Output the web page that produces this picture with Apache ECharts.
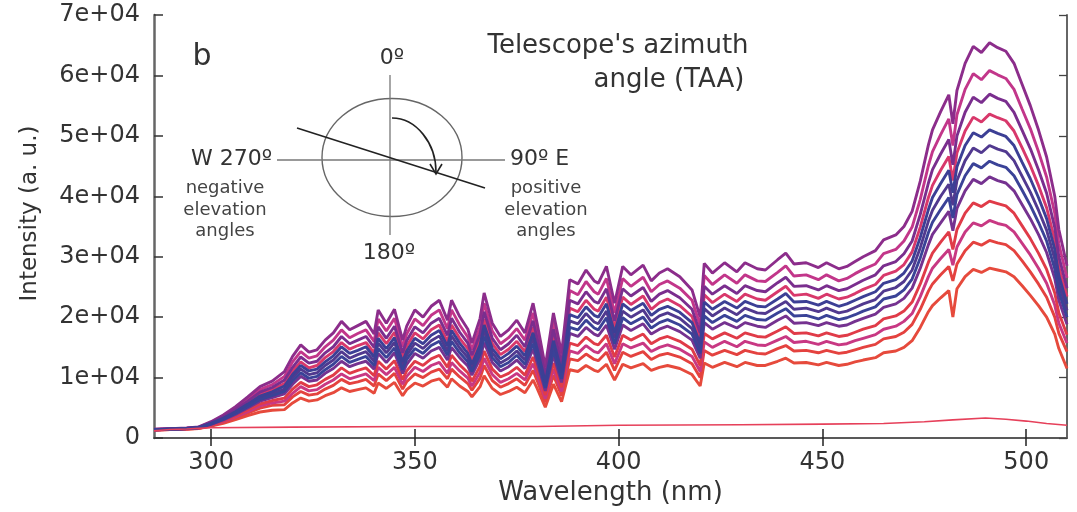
<!DOCTYPE html>
<html>
<head>
<meta charset="utf-8">
<script src="https://cdn.jsdelivr.net/npm/echarts@6/dist/echarts.min.js"></script>
<style>
html,body{margin:0;padding:0;background:#fff;}
#chart{width:1077px;height:512px;}
</style>
</head>
<body>
<div id="chart"></div>
<script>
// Wavelength grid (nm) shared by the sky spectra
const wl = [286,290,294,297,300,303,306,309,312,315,
  318,320,322,324,326,328,330,332,334,336,
  338,340,341,343,345,347,348,350,352,354,
  356,358,359,361,363,364,366,367,369,371,
  373,375,377,379,380,382,384,386,388,390,
  392,394,395,397,399,401,403,406,408,410,
  412,415,418,420,421,423,426,429,431,434,
  436,439,441,443,446,449,451,454,456,458,
  460,463,465,468,470,472,474,476,477,479,
  481,482,483,485,487,489,491,493,495,497,
  499,501,503,505,507,508,510];

const s1 = [1450,1550,1650,1850,2700,3800,5200,6800,8500,9400,
  11000,13500,15400,14200,14600,16200,17400,19300,17900,18600,
  19300,17200,21200,19000,21300,16200,18500,21200,20000,21800,
  22800,19500,22800,20100,18000,15700,19800,24000,19000,16800,
  17900,19500,17400,22300,19000,11800,20700,14000,26200,25500,
  27800,26000,25600,28400,22300,28400,27000,28600,26000,27300,
  28000,26700,24500,20000,28900,27300,29000,27500,29000,28000,
  27800,29500,30600,28800,29000,28200,29000,28000,28400,29200,
  30000,31000,32800,33600,35000,37500,42500,48500,51000,54000,
  56800,52000,57500,62000,64800,63800,65400,64600,64000,62000,
  58500,55000,51000,46500,40000,34500,28500];
const s2 = [1420,1520,1620,1800,2610,3630,4930,6420,8000,8840,
  10200,12600,14300,13200,13600,15100,16200,17900,16600,17300,
  17900,16000,19700,17700,19800,15100,17200,19700,18600,20300,
  21200,18100,21200,18700,16700,14600,18400,22300,17700,15600,
  16600,18100,16200,20700,17700,11000,19300,13000,24400,23700,
  25900,24200,23800,26400,20700,26400,25100,26600,24200,25400,
  26000,24800,22800,18600,26900,25400,27000,25600,27000,26000,
  25900,27400,28500,26800,27000,26200,27000,26000,26400,27200,
  27900,28800,30500,31200,32600,34900,39500,45100,47400,50200,
  52800,48400,53500,57700,60300,59300,60800,60100,59500,57700,
  54400,51200,47400,43200,37200,32100,26500];
const s3 = [1400,1500,1600,1780,2530,3490,4710,6100,7580,8360,
  9600,11700,13400,12400,12700,14100,15100,16800,15600,16200,
  16800,15000,18400,16500,18500,14100,16100,18400,17400,19000,
  19800,17000,19800,17500,15700,13700,17200,20900,16500,14600,
  15600,17000,15100,19400,16500,10300,18000,12200,22800,22200,
  24200,22600,22300,24700,19400,24700,23500,24900,22600,23800,
  24400,23200,21300,17400,25100,23800,25200,23900,25200,24400,
  24200,25700,26600,25100,25200,24500,25200,24400,24700,25400,
  26100,27000,28500,29200,30500,32600,37000,42200,44400,47000,
  49400,45200,50000,53900,56400,55500,56900,56200,55700,53900,
  50900,47900,44400,40500,34800,30000,24800];
const s4 = [1400,1500,1600,1760,2470,3370,4520,5830,7220,7960,
  9000,11100,12600,11600,12000,13300,14300,15800,14700,15300,
  15800,14100,17400,15600,17500,13300,15200,17400,16400,17900,
  18700,16000,18700,16500,14800,12900,16200,19700,15600,13800,
  14700,16000,14300,18300,15600,9700,17000,11500,21500,20900,
  22800,21300,21000,23300,18300,23300,22100,23500,21300,22400,
  23000,21900,20100,16400,23700,22400,23800,22600,23800,23000,
  22800,24200,25100,23600,23800,23100,23800,23000,23300,23900,
  24600,25400,26900,27600,28700,30800,34900,39800,41800,44300,
  46600,42600,47200,50800,53100,52300,53600,53000,52500,50800,
  48000,45100,41800,38100,32800,28300,23400];
const s5 = [1380,1480,1580,1740,2410,3270,4360,5610,6940,7640,
  8600,10500,12000,11100,11400,12600,13600,15100,14000,14500,
  15100,13400,16500,14800,16600,12600,14400,16500,15600,17000,
  17800,15200,17800,15700,14000,12200,15400,18700,14800,13100,
  14000,15200,13600,17400,14800,9200,16100,10900,20400,19900,
  21700,20300,20000,22200,17400,22200,21100,22300,20300,21300,
  21800,20800,19100,15600,22500,21300,22600,21500,22600,21800,
  21700,23000,23900,22500,22600,22000,22600,21800,22200,22800,
  23400,24200,25600,26200,27300,29300,33200,37800,39800,42100,
  44300,40600,44900,48400,50500,49800,51000,50400,49900,48400,
  45600,42900,39800,36300,31200,26900,22200];
const s6 = [1380,1470,1570,1720,2360,3180,4210,5400,6650,7320,
  8100,10000,11400,10500,10800,12000,12900,14300,13200,13800,
  14300,12700,15700,14100,15800,12000,13700,15700,14800,16100,
  16900,14400,16900,14900,13300,11600,14700,17800,14100,12400,
  13200,14400,12900,16500,14100,8700,15300,10400,19400,18900,
  20600,19200,18900,21000,16500,21000,20000,21200,19200,20200,
  20700,19800,18100,14800,21400,20200,21500,20400,21500,20700,
  20600,21800,22600,21300,21500,20900,21500,20700,21000,21600,
  22200,22900,24300,24900,25900,27800,31500,35900,37700,40000,
  42000,38500,42600,45900,48000,47200,48400,47800,47400,45900,
  43300,40700,37700,34400,29600,25500,21100];
const s7 = [1360,1460,1560,1700,2310,3080,4060,5180,6370,7000,
  7700,9450,10800,9900,10200,11300,12200,13500,12500,13000,
  13500,12000,14800,13300,14900,11300,13000,14800,14000,15300,
  16000,13700,16000,14100,12600,11000,13900,16800,13300,11800,
  12500,13700,12200,15600,13300,8300,14500,9800,18300,17900,
  19500,18200,17900,19900,15600,19900,18900,20000,18200,19100,
  19600,18700,17200,14000,20200,19100,20300,19300,20300,19600,
  19500,20700,21400,20200,20300,19700,20300,19600,19900,20400,
  21000,21700,23000,23500,24500,26300,29800,34000,35700,37800,
  39800,36400,40300,43400,45400,44700,45800,45200,44800,43400,
  41000,38500,35700,32600,28000,24200,20000];
const s8 = [1350,1450,1550,1680,2260,2980,3910,4960,6090,6680,
  7300,8900,10200,9400,9600,10700,11500,12700,11800,12300,
  12700,11400,14000,12500,14100,10700,12200,14000,13200,14400,
  15000,12900,15000,13300,11900,10400,13100,15800,12500,11100,
  11800,12900,11500,14700,12500,7800,13700,9200,17300,16800,
  18300,17200,16900,18700,14700,18700,17800,18900,17200,18000,
  18500,17600,16200,13200,19100,18000,19100,18200,19100,18500,
  18300,19500,20200,19000,19100,18600,19100,18500,18700,19300,
  19800,20500,21600,22200,23100,24800,28100,32000,33700,35600,
  37500,34300,38000,40900,42800,42100,43200,42600,42200,40900,
  38600,36300,33700,30700,26400,22800,18800];
const s9 = [1340,1440,1540,1660,2180,2840,3680,4640,5660,6200,
  6600,8100,9200,8500,8800,9700,10400,11600,10700,11200,
  11600,10300,12700,11400,12800,9700,11100,12700,12000,13100,
  13700,11700,13700,12100,10800,9400,11900,14400,11400,10100,
  10700,11700,10400,13400,11400,7100,12400,8400,15700,15300,
  16700,15600,15400,17000,13400,17000,16200,17200,15600,16400,
  16800,16000,14700,12000,17300,16400,17400,16500,17400,16800,
  16700,17700,18400,17300,17400,16900,17400,16800,17000,17500,
  18000,18600,19700,20200,21000,22500,25500,29100,30600,32400,
  34100,31200,34500,37200,38900,38300,39200,38800,38400,37200,
  35100,33000,30600,27900,24000,20700,17100];
const s10 = [1320,1420,1520,1640,2120,2720,3490,4370,5310,5800,
  6100,7400,8500,7800,8000,8900,9600,10600,9800,10200,
  10600,9500,11700,10500,11700,8900,10200,11700,11000,12000,
  12500,10700,12500,11100,9900,8600,10900,13200,10500,9200,
  9800,10700,9600,12300,10500,6500,11400,7700,14400,14000,
  15300,14300,14100,15600,12300,15600,14900,15700,14300,15000,
  15400,14700,13500,11000,15900,15000,16000,15100,16000,15400,
  15300,16200,16800,15800,16000,15500,16000,15400,15600,16100,
  16500,17100,18000,18500,19300,20600,23400,26700,28100,29700,
  31200,28600,31600,34100,35600,35100,36000,35500,35200,34100,
  32200,30300,28100,25600,22000,19000,15700];
const s11 = [1300,1400,1500,1620,2050,2600,3300,4100,4950,5400,
  5500,6800,7700,7100,7300,8100,8700,9700,9000,9300,
  9700,8600,10600,9500,10700,8100,9300,10600,10000,10900,
  11400,9800,11400,10100,9000,7900,9900,12000,9500,8400,
  9000,9800,8700,11200,9500,5900,10400,7000,13100,12800,
  13900,13000,12800,14200,11200,14200,13500,14300,13000,13700,
  14000,13400,12300,10000,14500,13700,14500,13800,14500,14000,
  13900,14800,15300,14400,14500,14100,14500,14000,14200,14600,
  15000,15500,16400,16800,17500,18800,21300,24300,25500,27000,
  28400,26000,28800,31000,32400,31900,32700,32300,32000,31000,
  29300,27500,25500,23300,20000,17300,14300];
const s12 = [1280,1380,1450,1550,1960,2430,3030,3720,4300,4600,
  4700,5800,6600,6100,6300,7000,7500,8300,7700,8000,
  8300,7400,9100,8200,9200,7000,8000,9100,8600,9400,
  9800,8400,9800,8600,7700,6800,8500,10300,8200,7200,
  7700,8400,7500,9600,8200,5100,8900,6000,11300,11000,
  12000,11200,11000,12200,9600,12200,11600,12300,11200,11700,
  12000,11500,10500,8600,12400,11700,12500,11800,12500,12000,
  12000,12700,13200,12400,12500,12100,12500,12000,12200,12600,
  12900,13300,14100,14400,15000,16100,18300,20900,21900,23200,
  24400,20000,24700,26700,27900,27400,28100,27800,27500,26700,
  25200,23600,21900,20000,17200,14800,11500];

// Dark / offset spectrum (thin red line near the baseline)
const darkWl = [286,290,294,297,300,320,350,380,400,430,450,465,475,482,490,495,500,505,510];
const darkVals = [1200,1400,1500,1600,1700,1800,1900,1900,2100,2200,2300,2400,2700,3000,3300,3100,2800,2400,2100];

// Axis ticks and labels
const xTicks = [300,350,400,450,500];
const yTickVals = [0,10000,20000,30000,40000,50000,60000,70000];
const yTickLabels = ['0','1e+04','2e+04','3e+04','4e+04','5e+04','6e+04','7e+04'];

const spectra = [
  {name:'s12', v:s12, c:'#e64a3c'},
  {name:'s11', v:s11, c:'#e4423f'},
  {name:'s10', v:s10, c:'#c83883'},
  {name:'s9',  v:s9,  c:'#e03b48'},
  {name:'s4',  v:s4,  c:'#d8386b'},
  {name:'s2',  v:s2,  c:'#c2368a'},
  {name:'s1',  v:s1,  c:'#8c2d8b'},
  {name:'s3',  v:s3,  c:'#7a2e8e'},
  {name:'s8',  v:s8,  c:'#753290'},
  {name:'s6',  v:s6,  c:'#51398f'},
  {name:'s7',  v:s7,  c:'#3a4297'},
  {name:'s5',  v:s5,  c:'#3c3f95'}
];

const FONT = 'DejaVu Sans';
const TXT = '#333';

const series = spectra.map(s => ({
  type:'line', name:s.name, showSymbol:false, symbol:'none',
  data: wl.map((x,i)=>[x, s.v[i]]),
  lineStyle:{color:s.c, width:2.9},
  itemStyle:{color:s.c},
  silent:true
}));
series.push({
  type:'line', name:'dark', showSymbol:false, symbol:'none',
  data: darkWl.map((x,i)=>[x, darkVals[i]]),
  lineStyle:{color:'#e6405a', width:1.6},
  itemStyle:{color:'#e6405a'},
  silent:true, z:3
});

const chart = echarts.init(document.getElementById('chart'), null, {renderer:'canvas'});
chart.setOption({
  animation:false,
  backgroundColor:'#fff',
  grid:{left:154, right:10, top:15, bottom:74, containLabel:false},
  xAxis:[{
    type:'value', min:286, max:510, position:'bottom',
    name:'Wavelength (nm)', nameLocation:'middle', nameGap:31,
    nameTextStyle:{fontFamily:FONT, fontSize:26, color:TXT},
    axisLine:{show:true, lineStyle:{color:'#666', width:2}},
    axisTick:{show:true, inside:true, length:9, customValues:xTicks, lineStyle:{color:'#222', width:1.5}},
    axisLabel:{show:true, customValues:xTicks, fontFamily:FONT, fontSize:24, color:TXT, margin:13},
    splitLine:{show:false}
  },{
    type:'value', min:286, max:510, position:'top',
    axisLine:{show:true, lineStyle:{color:'#555', width:1.5}},
    axisTick:{show:true, inside:true, length:8, customValues:xTicks, lineStyle:{color:'#222', width:1.5}},
    axisLabel:{show:false},
    splitLine:{show:false}
  }],
  yAxis:[{
    type:'value', min:0, max:70000, interval:10000, position:'left',
    name:'Intensity (a. u.)', nameLocation:'middle', nameGap:112, nameRotate:90,
    nameTextStyle:{fontFamily:FONT, fontSize:23, color:TXT, padding:[0,0,0,26]},
    axisLine:{show:true, lineStyle:{color:'#666', width:2.5}},
    axisTick:{show:true, inside:true, length:9, lineStyle:{color:'#333', width:1.5}},
    axisLabel:{show:true, fontFamily:FONT, fontSize:24, color:TXT, margin:14,
      formatter:(v)=>{const k=yTickVals.indexOf(v); return k>=0?yTickLabels[k]:'';}},
    splitLine:{show:false}
  },{
    type:'value', min:0, max:70000, interval:10000, position:'right',
    axisLine:{show:true, lineStyle:{color:'#666', width:2}},
    axisTick:{show:true, inside:true, length:8, lineStyle:{color:'#444', width:1.3}},
    axisLabel:{show:false},
    splitLine:{show:false}
  }],
  series: series,
  graphic:{elements:[
    {type:'ellipse', silent:true, shape:{cx:392, cy:157.5, rx:70, ry:59},
      style:{fill:'none', stroke:'#666', lineWidth:1.4}},
    {type:'line', silent:true, shape:{x1:390, y1:75, x2:390, y2:235},
      style:{stroke:'#777', lineWidth:1.3}},
    {type:'line', silent:true, shape:{x1:277, y1:160, x2:505, y2:160},
      style:{stroke:'#777', lineWidth:1.3}},
    {type:'line', silent:true, shape:{x1:297, y1:128, x2:485, y2:188},
      style:{stroke:'#222', lineWidth:1.6}},
    {type:'bezierCurve', silent:true, shape:{x1:392, y1:118, cpx1:416, cpy1:118, cpx2:436, cpy2:143, x2:436, y2:172},
      style:{fill:'none', stroke:'#222', lineWidth:1.6}},
    {type:'polyline', silent:true, shape:{points:[[430,164],[436,174],[442,164]]},
      style:{fill:'none', stroke:'#222', lineWidth:1.6}},
    {type:'text', silent:true, x:202, y:57,
      style:{text:'b', fontFamily:FONT, fontSize:30, fill:TXT, align:'center', verticalAlign:'middle'}},
    {type:'text', silent:true, x:392, y:58,
      style:{text:'0º', fontFamily:FONT, fontSize:22, fill:TXT, align:'center', verticalAlign:'middle'}},
    {type:'text', silent:true, x:272, y:159,
      style:{text:'W 270º', fontFamily:FONT, fontSize:22, fill:TXT, align:'right', verticalAlign:'middle'}},
    {type:'text', silent:true, x:510, y:159,
      style:{text:'90º E', fontFamily:FONT, fontSize:22, fill:TXT, align:'left', verticalAlign:'middle'}},
    {type:'text', silent:true, x:389, y:253,
      style:{text:'180º', fontFamily:FONT, fontSize:22, fill:TXT, align:'center', verticalAlign:'middle'}},
    {type:'text', silent:true, x:225, y:210,
      style:{text:'negative\nelevation\nangles', fontFamily:FONT, fontSize:18, lineHeight:21.5, fill:'#444', align:'center', verticalAlign:'middle'}},
    {type:'text', silent:true, x:546, y:210,
      style:{text:'positive\nelevation\nangles', fontFamily:FONT, fontSize:18, lineHeight:21.5, fill:'#444', align:'center', verticalAlign:'middle'}},
    {type:'text', silent:true, x:618, y:46,
      style:{text:"Telescope's azimuth", fontFamily:FONT, fontSize:26, fill:TXT, align:'center', verticalAlign:'middle'}},
    {type:'text', silent:true, x:669, y:80,
      style:{text:'angle (TAA)', fontFamily:FONT, fontSize:26, fill:TXT, align:'center', verticalAlign:'middle'}}
  ]}
});
</script>
</body>
</html>
